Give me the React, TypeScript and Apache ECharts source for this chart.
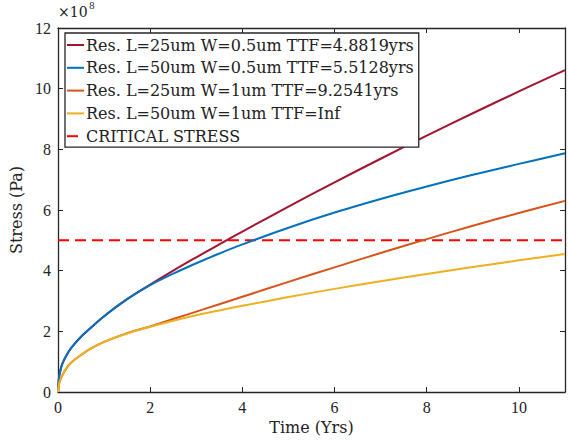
import React, { useEffect, useRef } from "react";
import * as echarts from "echarts";

// Time samples (years)
const times = [0, 0.02, 0.05, 0.1, 0.2, 0.3, 0.5, 0.7, 1, 1.5, 2, 2.5, 3, 3.5, 4, 5, 6, 7, 8, 9, 10, 11];

// Stress values (x1e8 Pa)
const redVals = [0, 0.45, 0.7, 0.95, 1.25, 1.48, 1.82, 2.1, 2.5, 3.06, 3.54, 4.0, 4.44, 4.87, 5.29, 6.11, 6.91, 7.69, 8.45, 9.19, 9.91, 10.61];
const blueVals = [0, 0.45, 0.7, 0.95, 1.25, 1.48, 1.82, 2.1, 2.5, 3.06, 3.52, 3.9, 4.245, 4.565, 4.865, 5.415, 5.915, 6.365, 6.775, 7.16, 7.52, 7.87];
const orangeVals = [0, 0.25, 0.4, 0.57, 0.82, 0.99, 1.22, 1.42, 1.65, 1.94, 2.16, 2.405, 2.65, 2.895, 3.14, 3.63, 4.11, 4.58, 5.04, 5.48, 5.9, 6.3];
const yellowVals = [0, 0.25, 0.4, 0.57, 0.82, 0.99, 1.22, 1.42, 1.65, 1.93, 2.15, 2.35, 2.53, 2.69, 2.84, 3.13, 3.4, 3.65, 3.89, 4.12, 4.34, 4.55];
const criticalTimes = [0, 11];
const criticalVals = [5, 5];

const seriesNames = [
  "Res. L=25um W=0.5um TTF=4.8819yrs",
  "Res. L=50um W=0.5um TTF=5.5128yrs",
  "Res. L=25um W=1um TTF=9.2541yrs",
  "Res. L=50um W=1um TTF=Inf",
  "CRITICAL STRESS",
];
const seriesColors = ["#A2142F", "#0072BD", "#D95319", "#EDB120", "#FF0000"];

const xTicks = [0, 2, 4, 6, 8, 10];
const yTicks = [0, 2, 4, 6, 8, 10, 12];

const zip = (xs: number[], ys: number[]) => xs.map((x, i) => [x, ys[i]]);

export default function App() {
  const ref = useRef<HTMLDivElement>(null);
  useEffect(() => {
    if (!ref.current) return;
    const chart = echarts.init(ref.current, undefined, { renderer: "svg" });
    const axisColor = "#262626";
    const tickFont = { fontFamily: "Liberation Serif", fontSize: 16, color: "#222" };
    const curve = (name: string, color: string, ys: number[]) => ({
      name,
      type: "line",
      data: zip(times, ys),
      symbol: "none",
      smooth: 0.4,
      lineStyle: { color, width: 2 },
      itemStyle: { color },
      z: 3,
    });
    chart.setOption({
      animation: false,
      backgroundColor: "#fff",
      grid: { left: 58, right: -5, top: 28, bottom: 50, containLabel: false },
      xAxis: [
        {
          type: "value",
          min: 0,
          max: 11,
          interval: 2,
          position: "bottom",
          name: "Time (Yrs)",
          nameLocation: "middle",
          nameGap: 27,
          nameTextStyle: { fontFamily: "DejaVu Serif", fontSize: 16, color: "#222" },
          axisLine: { show: true, lineStyle: { color: axisColor, width: 1.3 } },
          axisTick: { show: true, inside: true, length: 5, lineStyle: { color: axisColor } },
          axisLabel: {
            ...tickFont,
            margin: 7,
            formatter: (v: number) => (xTicks.includes(v) ? String(v) : ""),
          },
          splitLine: { show: false },
        },
        {
          type: "value",
          min: 0,
          max: 11,
          interval: 2,
          position: "top",
          axisLine: { show: true, onZero: false, lineStyle: { color: axisColor, width: 1.3 } },
          axisTick: { show: true, inside: true, length: 5, lineStyle: { color: axisColor } },
          axisLabel: { show: false },
          splitLine: { show: false },
        },
      ],
      yAxis: [
        {
          type: "value",
          min: 0,
          max: 12,
          interval: 2,
          position: "left",
          name: "Stress (Pa)",
          nameLocation: "middle",
          nameGap: 21,
          nameTextStyle: { fontFamily: "DejaVu Serif", fontSize: 16, color: "#222" },
          axisLine: { show: true, lineStyle: { color: axisColor, width: 1.3 } },
          axisTick: { show: true, inside: true, length: 5, lineStyle: { color: axisColor } },
          axisLabel: {
            ...tickFont,
            margin: 7,
            formatter: (v: number) => (yTicks.includes(v) ? String(v) : ""),
          },
          splitLine: { show: false },
        },
        {
          type: "value",
          min: 0,
          max: 12,
          interval: 2,
          position: "right",
          axisLine: { show: true, onZero: false, lineStyle: { color: axisColor, width: 1.3 } },
          axisTick: { show: true, inside: true, length: 5, lineStyle: { color: axisColor } },
          axisLabel: { show: false },
          splitLine: { show: false },
        },
      ],
      legend: {
        orient: "vertical",
        left: 65,
        top: 33,
        padding: [3, 5, 2, 1],
        itemGap: 4.8,
        itemWidth: 17,
        itemHeight: 14,
        itemStyle: { opacity: 0 },
        backgroundColor: "#fff",
        borderColor: axisColor,
        borderWidth: 1.3,
        textStyle: { fontFamily: "DejaVu Serif", fontSize: 16, lineHeight: 18, color: "#222", padding: [0, 0, 0, -3] },
        data: seriesNames,
      },
      graphic: [
        {
          type: "text",
          left: 58,
          top: 5,
          style: { text: "×10", fontFamily: "DejaVu Serif", fontSize: 14, fill: "#222" },
        },
        {
          type: "text",
          left: 89,
          top: 1,
          style: { text: "8", fontFamily: "DejaVu Serif", fontSize: 9, fill: "#222" },
        },
      ],
      series: [
        curve(seriesNames[0], seriesColors[0], redVals),
        curve(seriesNames[1], seriesColors[1], blueVals),
        curve(seriesNames[2], seriesColors[2], orangeVals),
        curve(seriesNames[3], seriesColors[3], yellowVals),
        {
          name: seriesNames[4],
          type: "line",
          data: zip(criticalTimes, criticalVals),
          symbol: "none",
          lineStyle: { color: seriesColors[4], width: 2, type: [11, 6] },
          itemStyle: { color: seriesColors[4] },
          z: 2,
        },
      ],
    });
    return () => chart.dispose();
  }, []);
  return (
    <div
      ref={ref}
      style={{ position: "absolute", left: 0, top: 0, width: 568, height: 442, background: "#fff" }}
    />
  );
}
